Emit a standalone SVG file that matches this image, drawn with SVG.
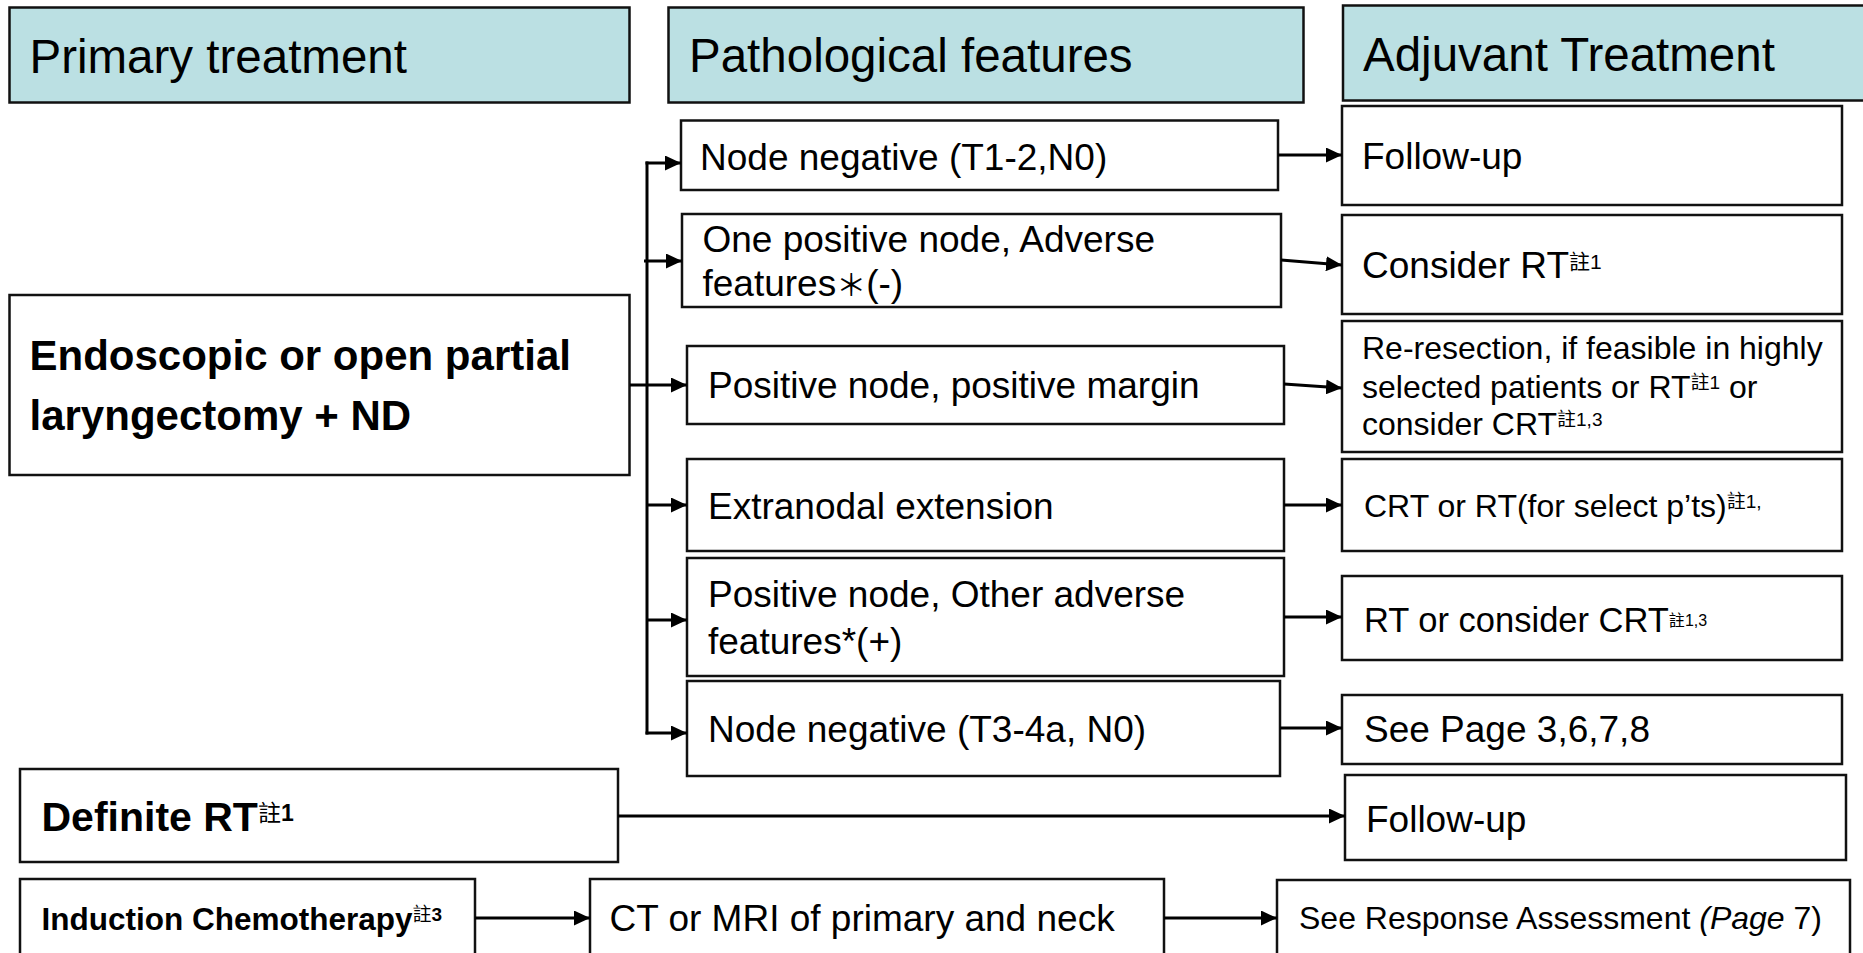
<svg xmlns="http://www.w3.org/2000/svg" width="1863" height="953" viewBox="0 0 1863 953">
<style>
  .hdr { fill: #BBE0E3; stroke: #111; stroke-width: 2.5; }
  .box { fill: #fff; stroke: #111; stroke-width: 2.5; }
  text { font-family: "Liberation Sans", Arial, "Noto Sans CJK TC", sans-serif; fill: #000; }
  .h { font-size: 47.5px; }
  .t37 { font-size: 37px; }
  .t32 { font-size: 32px; }
  .b { font-weight: bold; }
  .cjk { font-family: "Noto Sans CJK TC", "Noto Sans CJK SC", sans-serif; }
  .conn { stroke: #000; stroke-width: 3; fill: none; }
</style>
<defs>
  <marker id="arr" markerUnits="userSpaceOnUse" markerWidth="16" markerHeight="15" refX="16" refY="7.5" orient="auto">
    <path d="M0,0 L16,7.5 L0,15 Z" fill="#000"/>
  </marker>
</defs>
<rect width="1863" height="953" fill="#fff"/>

<g id="hdr-primary">
  <rect class="hdr" x="9.5" y="7.5" width="620" height="95"/>
  <text class="h" x="29.5" y="73">Primary treatment</text>
</g>
<g id="hdr-path">
  <rect class="hdr" x="668.5" y="7.5" width="635" height="95"/>
  <text class="h" x="689" y="72">Pathological features</text>
</g>
<g id="hdr-adjuvant">
  <rect class="hdr" x="1343" y="5.5" width="540" height="95"/>
  <text class="h" x="1363" y="71">Adjuvant Treatment</text>
</g>

<g id="n-endoscopic">
  <rect class="box" x="9.5" y="295" width="620" height="180"/>
  <text class="b" font-size="42" x="29.5" y="370">Endoscopic or open partial</text>
  <text class="b" font-size="42" x="29.5" y="430">laryngectomy + ND</text>
</g>
<g id="n-definite">
  <rect class="box" x="20" y="769" width="598" height="93"/>
  <text class="b" font-size="41" x="41.5" y="831">Definite RT<tspan class="cjk" font-size="23" font-weight="normal" y="821">註</tspan><tspan font-size="23" y="821">1</tspan></text>
</g>
<g id="n-induction">
  <rect class="box" x="20" y="879" width="455" height="90"/>
  <text class="b" font-size="31.5" x="41.5" y="930">Induction Chemotherapy<tspan class="cjk" font-size="19" font-weight="normal" y="921">註</tspan><tspan font-size="19" y="921">3</tspan></text>
</g>

<g id="n-neg12">
  <rect class="box" x="681" y="120.5" width="597" height="69.5"/>
  <text class="t37" x="700" y="170">Node negative (T1-2,N0)</text>
</g>
<g id="n-onepos">
  <rect class="box" x="682" y="214" width="599" height="93"/>
  <text class="t37" x="702.5" y="252">One positive node, Adverse</text>
  <text class="t37" x="702.5" y="296">features<tspan class="cjk" font-size="30">＊</tspan>(-)</text>
</g>
<g id="n-posmargin">
  <rect class="box" x="687" y="346" width="597" height="78"/>
  <text class="t37" x="708" y="398">Positive node, positive margin</text>
</g>
<g id="n-extranodal">
  <rect class="box" x="687" y="459" width="597" height="92"/>
  <text class="t37" x="708" y="519">Extranodal extension</text>
</g>
<g id="n-posother">
  <rect class="box" x="687" y="558" width="597" height="118"/>
  <text class="t37" x="708" y="607">Positive node, Other adverse</text>
  <text class="t37" x="708" y="654">features*(+)</text>
</g>
<g id="n-neg34">
  <rect class="box" x="687" y="681" width="593" height="95"/>
  <text class="t37" x="708" y="742">Node negative (T3-4a, N0)</text>
</g>

<g id="n-followup1">
  <rect class="box" x="1342" y="106" width="500" height="99"/>
  <text class="t37" x="1362" y="169">Follow-up</text>
</g>
<g id="n-considerrt">
  <rect class="box" x="1342" y="215" width="500" height="99"/>
  <text class="t37" x="1362" y="278">Consider RT<tspan class="cjk" font-size="21" y="269">註</tspan><tspan font-size="21" y="269">1</tspan></text>
</g>
<g id="n-reresection">
  <rect class="box" x="1342" y="321" width="500" height="131"/>
  <text class="t32" x="1362" y="359">Re-resection, if feasible in highly</text>
  <text class="t32" x="1362" y="398">selected patients or RT<tspan class="cjk" font-size="19" y="389">註</tspan><tspan font-size="19" y="389">1</tspan><tspan y="398"> or</tspan></text>
  <text class="t32" x="1362" y="435">consider CRT<tspan class="cjk" font-size="19" y="426">註</tspan><tspan font-size="19" y="426">1,3</tspan></text>
</g>
<g id="n-crt">
  <rect class="box" x="1342" y="459" width="500" height="92"/>
  <text class="t32" x="1364" y="517">CRT or RT(for select p’ts)<tspan class="cjk" font-size="19" y="508">註</tspan><tspan font-size="19" y="508">1,</tspan></text>
</g>
<g id="n-rtcrt">
  <rect class="box" x="1342" y="576" width="500" height="84"/>
  <text font-size="34.5" x="1364" y="632">RT or consider CRT<tspan class="cjk" font-size="16" y="626">註</tspan><tspan font-size="16" y="626">1,3</tspan></text>
</g>
<g id="n-seepage">
  <rect class="box" x="1342" y="695" width="500" height="69"/>
  <text class="t37" x="1364" y="742">See Page 3,6,7,8</text>
</g>
<g id="n-followup2">
  <rect class="box" x="1345" y="775" width="501" height="85"/>
  <text class="t37" x="1366" y="832">Follow-up</text>
</g>
<g id="n-ctmri">
  <rect class="box" x="590" y="879" width="574" height="90"/>
  <text class="t37" x="609.5" y="931">CT or MRI of primary and neck</text>
</g>
<g id="n-response">
  <rect class="box" x="1277" y="880" width="573" height="90"/>
  <text class="t32" x="1299" y="929">See Response Assessment <tspan font-style="italic">(Page</tspan> 7)</text>
</g>

<g id="connectors">
  <path class="conn" d="M630,385 H687" marker-end="url(#arr)"/>
  <path class="conn" d="M647,161.5 V734.5"/>
  <path class="conn" d="M645.5,163 H681" marker-end="url(#arr)"/>
  <path class="conn" d="M644,261 H682" marker-end="url(#arr)"/>
  <path class="conn" d="M647,505 H687" marker-end="url(#arr)"/>
  <path class="conn" d="M647,620 H687" marker-end="url(#arr)"/>
  <path class="conn" d="M645.5,733 H687" marker-end="url(#arr)"/>

  <path class="conn" d="M1278,155 H1342" marker-end="url(#arr)"/>
  <path class="conn" d="M1281,260 L1342,265" marker-end="url(#arr)"/>
  <path class="conn" d="M1284,384 L1342,388" marker-end="url(#arr)"/>
  <path class="conn" d="M1284,505 H1342" marker-end="url(#arr)"/>
  <path class="conn" d="M1284,617 H1342" marker-end="url(#arr)"/>
  <path class="conn" d="M1280,728 H1342" marker-end="url(#arr)"/>

  <path class="conn" d="M618,816 H1345" marker-end="url(#arr)"/>
  <path class="conn" d="M475,918 H590" marker-end="url(#arr)"/>
  <path class="conn" d="M1164,918 H1277" marker-end="url(#arr)"/>
</g>
</svg>
